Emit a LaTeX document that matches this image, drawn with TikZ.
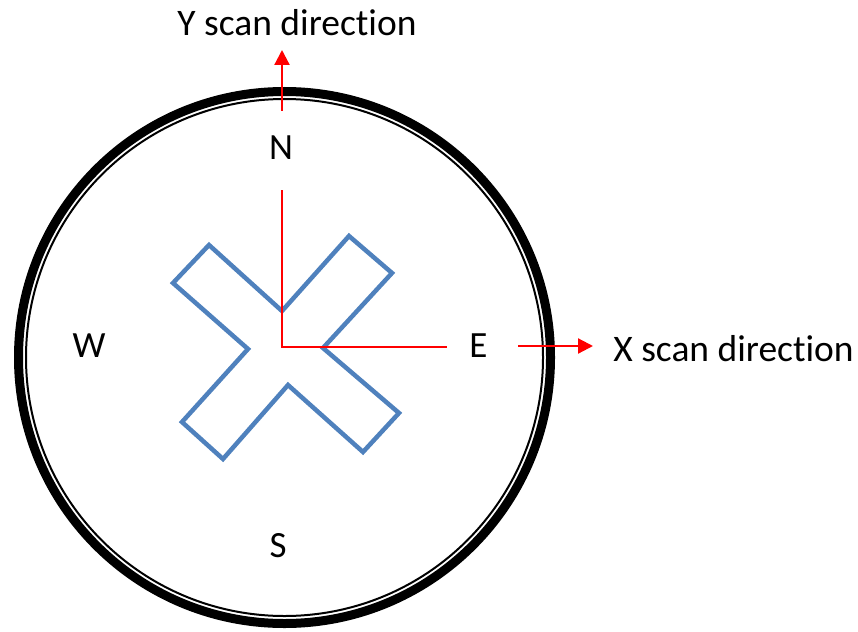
\documentclass[tikz,border=0pt]{standalone}
\usepackage{fontspec}
\setmainfont{Carlito}[Ligatures=NoCommon]
\usetikzlibrary{arrows.meta}
\definecolor{crossblue}{RGB}{79,129,189}
\tikzset{
  lbl/.style={anchor=base,inner sep=0pt,font=\fontsize{37}{40}\selectfont},
  scantxt/.style={anchor=base,inner sep=0pt,font=\fontsize{37.5}{40}\selectfont},
  redline/.style={draw=red,line width=2.2pt},
  redarrow/.style={redline,-{Triangle[length=15pt,width=15pt]}},
  crossline/.style={draw=crossblue,line width=4.5pt,line join=miter}
}
\begin{document}
\begin{tikzpicture}[x=1pt,y=-1pt]
\useasboundingbox (0,0) rectangle (858,631);
% circle
\coordinate (c) at (284.5,357.5);
\draw[line width=9pt] (c) circle[radius=266];
\draw[line width=2pt] (c) circle[radius=258.5];
% cross
\draw[crossline] (209,245) -- (173,283) -- (248,349) -- (182,422) -- (223,459) -- (288,385)
  -- (363,452) -- (399,413) -- (323,348) -- (392,273) -- (349,236) -- (282,311) -- cycle;
% axes
\coordinate (ytop) at (282,190);
\coordinate (o) at (282,347);
\coordinate (xend) at (447,347);
\draw[redline] (ytop) -- (o) -- (xend);
\coordinate (ya) at (282,111);
\coordinate (yb) at (282,50);
\draw[redarrow] (ya) -- (yb);
\coordinate (xa) at (518,346);
\coordinate (xb) at (593,346);
\draw[redarrow] (xa) -- (xb);
% labels
\node[lbl] (N) at (281,160) {N};
\node[lbl] (W) at (89,357) {W};
\node[lbl] (E) at (478.5,357) {E};
\node[lbl] (S) at (278,557) {S};
\node[scantxt] (ytxt) at (297,36) {Y scan direction};
\node[scantxt] (xtxt) at (733.5,361) {X scan direction};
\end{tikzpicture}
\end{document}
